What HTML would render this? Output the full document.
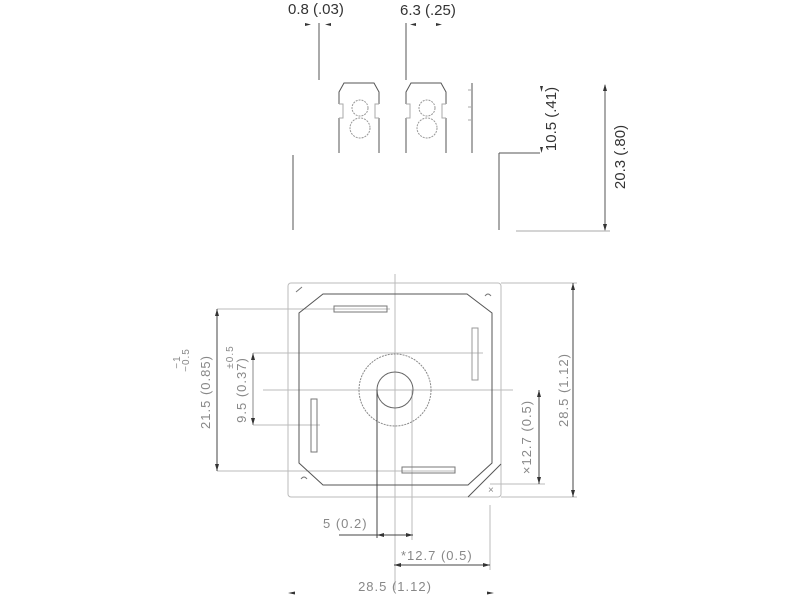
<!DOCTYPE html>
<html><head><meta charset="utf-8"><style>html,body{margin:0;padding:0;background:#fff}svg{display:block}</style></head>
<body>
<svg width="800" height="600" viewBox="0 0 800 600" xmlns="http://www.w3.org/2000/svg" font-family="Liberation Sans, sans-serif">
<g stroke="#555" stroke-width="1" fill="none">
 <line x1="319" y1="23" x2="319" y2="80"/>
 <line x1="406" y1="23" x2="406" y2="80"/>
 <path d="M339 104 V92 L344 83 H374 L379 92 V104 M339 118 V153 M379 118 V153"/>
 <path d="M406 104 V92 L411 83 H441 L446 92 V104 M406 118 V153 M446 118 V153"/>
 <path d="M339 104 H343 V118 H339 M379 104 H375 V118 H379" stroke="#aaa"/>
 <path d="M406 104 H410 V118 H406 M446 104 H442 V118 H446" stroke="#aaa"/>
 <circle cx="360" cy="108" r="8" stroke="#999" stroke-dasharray="2 1"/>
 <circle cx="360" cy="128" r="10" stroke="#999" stroke-dasharray="2 1"/>
 <circle cx="427" cy="108" r="8" stroke="#999" stroke-dasharray="2 1"/>
 <circle cx="427" cy="128" r="10" stroke="#999" stroke-dasharray="2 1"/>
 <line x1="472" y1="83" x2="472" y2="153"/>
 <path d="M468 90 H472 M468 107 H472 M468 120 H472" stroke="#aaa"/>
 <line x1="293" y1="155" x2="293" y2="230"/>
 <line x1="499" y1="153" x2="499" y2="230"/>
 <line x1="499" y1="153" x2="540" y2="153"/>
 <line x1="605" y1="85" x2="605" y2="230"/>
 <line x1="516" y1="231" x2="610" y2="231" stroke="#aaa"/>
</g>
<g fill="#333">
 <path d="M305 23 L311 24.5 L305 26Z M331 23 L325 24.5 L331 26Z M416 23 L410 24.5 L416 26Z M436 23 L442 24.5 L436 26Z"/>
 <path d="M540 86 L541.5 92 L543 86Z M540 147 L541.5 153 L543 147Z"/>
 <path d="M605 84 L603 91 H607Z M605 231 L603 224 H607Z"/>
</g>
<g fill="#333" font-size="15">
 <text x="288" y="14">0.8 (.03)</text>
 <text x="400" y="15">6.3 (.25)</text>
 <text transform="translate(556,119) rotate(-90)" text-anchor="middle">10.5 (.41)</text>
 <text transform="translate(625,157) rotate(-90)" text-anchor="middle">20.3 (.80)</text>
</g>
<g stroke="#bbb" stroke-width="1" fill="none">
 <rect x="288" y="283" width="213" height="214" rx="3"/>
 <line x1="395" y1="274" x2="395" y2="590"/>
 <line x1="263" y1="390" x2="513" y2="390"/>
 <line x1="217" y1="309" x2="390" y2="309"/>
 <line x1="217" y1="471" x2="455" y2="471"/>
 <line x1="253" y1="353" x2="483" y2="353"/>
 <line x1="253" y1="425" x2="320" y2="425"/>
 <line x1="501" y1="283" x2="577" y2="283"/>
 <line x1="501" y1="497" x2="577" y2="497"/>
 <line x1="490" y1="484" x2="545" y2="484"/>
 <line x1="412" y1="390" x2="412" y2="540"/>
 <line x1="490" y1="505" x2="490" y2="570"/>
</g>
<g stroke="#555" stroke-width="1" fill="none">
 <path d="M323 294 H467 L492 313 V463 L468 485 H323 L299 463 V313 Z"/>
 <line x1="501" y1="464" x2="468" y2="497"/>
 <path d="M296 292 L302 287 M485 296 q3 -4 6 0 M301 479 q3 -4 6 0" stroke="#777"/>
 <circle cx="395" cy="390" r="36" stroke="#888" stroke-dasharray="2 1"/>
 <circle cx="395" cy="390" r="18" stroke="#666"/>
 <rect x="334" y="306" width="53" height="6" stroke="#777"/>
 <rect x="472" y="328" width="6" height="52" stroke="#999"/>
 <rect x="311" y="399" width="6" height="53" stroke="#777"/>
 <rect x="402" y="467" width="53" height="6" stroke="#777"/>
 <line x1="217" y1="309" x2="217" y2="471" stroke="#444"/>
 <line x1="253" y1="353" x2="253" y2="425" stroke="#888"/>
 <line x1="539" y1="390" x2="539" y2="484" stroke="#444"/>
 <line x1="573" y1="283" x2="573" y2="497" stroke="#444"/>
 <line x1="377" y1="390" x2="377" y2="538" stroke="#444"/>
 <line x1="339" y1="535" x2="413" y2="535" stroke="#444"/>
 <line x1="394" y1="565" x2="490" y2="565" stroke="#444"/>
</g>
<g fill="#333">
 <path d="M217 309 L215 316 H219Z M217 471 L215 464 H219Z"/>
 <path d="M253 353 L251 360 H255Z M253 425 L251 418 H255Z"/>
 <path d="M539 390 L537 397 H541Z M539 484 L537 477 H541Z"/>
 <path d="M573 283 L571 290 H575Z M573 497 L571 490 H575Z"/>
 <path d="M377 535 L384 533 V537Z M413 535 L406 533 V537Z"/>
 <path d="M394 565 L401 563 V567Z M490 565 L483 563 V567Z"/>
 <path d="M288 593 L295 591.5 V594.5Z M494 593 L487 591.5 V594.5Z"/>
</g>
<g fill="#888" font-size="13" letter-spacing="1" style="white-space:pre">
 <text transform="translate(210,392) rotate(-90)" text-anchor="middle">21.5  (0.85)</text>
 <text transform="translate(189,360) rotate(-90)" text-anchor="middle" font-size="10">−0.5</text>
 <text transform="translate(180,362) rotate(-90)" text-anchor="middle" font-size="10">−1</text>
 <text transform="translate(246,390) rotate(-90)" text-anchor="middle">9.5  (0.37)</text>
 <text transform="translate(233,357) rotate(-90)" text-anchor="middle" font-size="10">±0.5</text>
 <text transform="translate(531,437) rotate(-90)" text-anchor="middle">×12.7  (0.5)</text>
 <text transform="translate(568,390) rotate(-90)" text-anchor="middle">28.5  (1.12)</text>
 <text x="323" y="528">5  (0.2)</text>
 <text x="401" y="560">*12.7  (0.5)</text>
 <text x="395" y="591" text-anchor="middle">28.5  (1.12)</text>
 <text x="488" y="493" font-size="10">×</text>
</g>
</svg>
</body></html>
